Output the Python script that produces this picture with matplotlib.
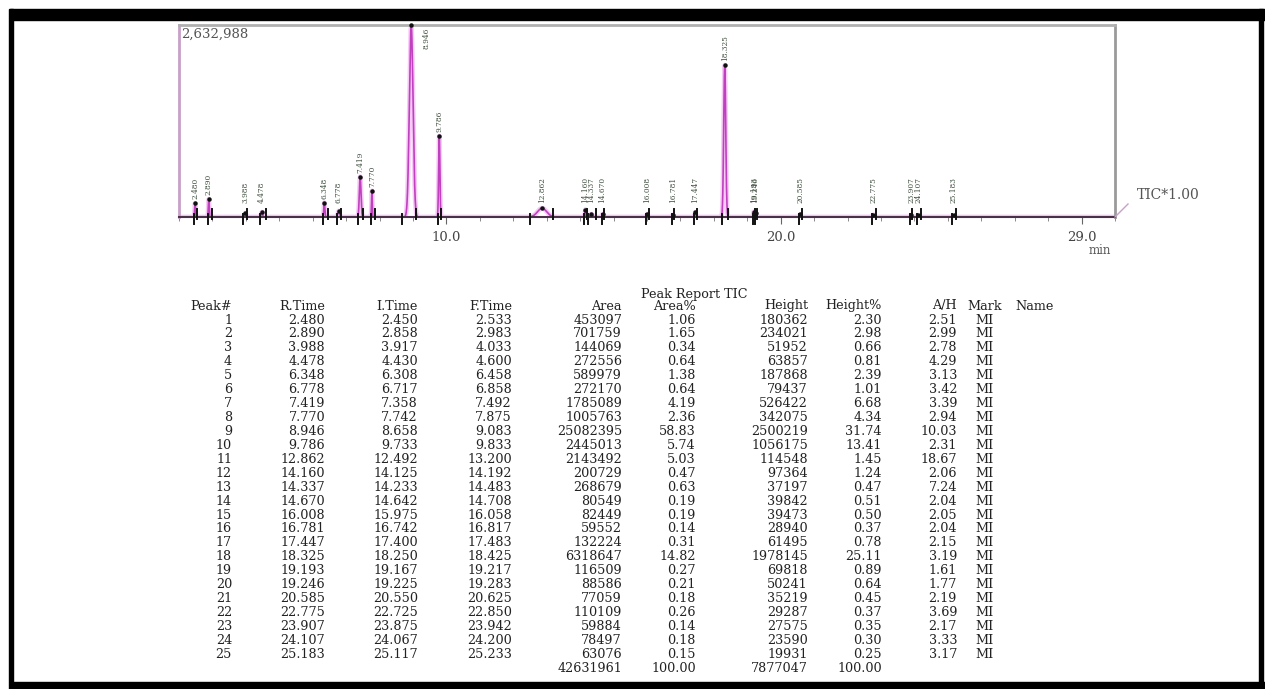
import matplotlib.pyplot as plt
import numpy as np
from matplotlib.patches import Rectangle
from matplotlib.lines import Line2D
from matplotlib.ticker import MultipleLocator

# -- DADOS --
peak_no = list(range(1, 26))
r_time = [2.480, 2.890, 3.988, 4.478, 6.348, 6.778, 7.419, 7.770, 8.946, 9.786,
          12.862, 14.160, 14.337, 14.670, 16.008, 16.781, 17.447, 18.325, 19.193,
          19.246, 20.585, 22.775, 23.907, 24.107, 25.183]
i_time = [2.450, 2.858, 3.917, 4.430, 6.308, 6.717, 7.358, 7.742, 8.658, 9.733,
          12.492, 14.125, 14.233, 14.642, 15.975, 16.742, 17.400, 18.250, 19.167,
          19.225, 20.550, 22.725, 23.875, 24.067, 25.117]
f_time = [2.533, 2.983, 4.033, 4.600, 6.458, 6.858, 7.492, 7.875, 9.083, 9.833,
          13.200, 14.192, 14.483, 14.708, 16.058, 16.817, 17.483, 18.425, 19.217,
          19.283, 20.625, 22.850, 23.942, 24.200, 25.233]
area = [453097, 701759, 144069, 272556, 589979, 272170, 1785089, 1005763, 25082395,
        2445013, 2143492, 200729, 268679, 80549, 82449, 59552, 132224, 6318647,
        116509, 88586, 77059, 110109, 59884, 78497, 63076]
area_pct = [1.06, 1.65, 0.34, 0.64, 1.38, 0.64, 4.19, 2.36, 58.83, 5.74, 5.03, 0.47,
            0.63, 0.19, 0.19, 0.14, 0.31, 14.82, 0.27, 0.21, 0.18, 0.26, 0.14, 0.18, 0.15]
height = [180362, 234021, 51952, 63857, 187868, 79437, 526422, 342075, 2500219,
          1056175, 114548, 97364, 37197, 39842, 39473, 28940, 61495, 1978145, 69818,
          50241, 35219, 29287, 27575, 23590, 19931]
height_pct = [2.30, 2.98, 0.66, 0.81, 2.39, 1.01, 6.68, 4.34, 31.74, 13.41, 1.45, 1.24,
              0.47, 0.51, 0.50, 0.37, 0.78, 25.11, 0.89, 0.64, 0.45, 0.37, 0.35, 0.30, 0.25]
a_h = [2.51, 2.99, 2.78, 4.29, 3.13, 3.42, 3.39, 2.94, 10.03, 2.31, 18.67, 2.06, 7.24,
       2.04, 2.05, 2.04, 2.15, 3.19, 1.61, 1.77, 2.19, 3.69, 2.17, 3.33, 3.17]
mark = ["MI"] * 25
total_area = 42631961
total_area_pct = 100.00
total_height = 7877047
total_height_pct = 100.00
y_max_label = "2,632,988"
x_ticks = [10.0, 20.0, 29.0]

# -- FIGURA --
W, H = 1265, 689
def fx(x): return x / W
def fy(y): return 1 - y / H

plt.rcParams['font.family'] = ['DejaVu Serif']
fig = plt.figure(figsize=(W / 100, H / 100), dpi=100)
ax = fig.add_axes([fx(179), fy(217), (1115 - 179) / W, (217 - 25) / H])

# cromatograma a partir dos picos da tabela
t = np.linspace(2.0, 30.0, 12000)
tic = np.zeros_like(t)
for rt, it, ft, h in zip(r_time, i_time, f_time, height):
    s = min(rt - it, ft - rt) / 2.5
    tic += h * np.exp(-0.5 * ((t - rt) / s) ** 2)
ax.plot(t, tic, color='#ee99ee', lw=3.4, alpha=0.5)
ax.plot(t, tic, color='#c040c0', lw=1.2)

ymax = 2.50e6
px = ymax / 192.0
ax.set_xlim(2.0, 30.0)
ax.set_ylim(0, ymax)

# marcas de início/fim de integração
for it, ft in zip(i_time, f_time):
    ax.plot([it, it], [-7 * px, 3 * px], color='#111', lw=1.4, clip_on=False, zorder=4)
    ax.plot([ft, ft], [-2 * px, 8 * px], color='#111', lw=1.4, clip_on=False, zorder=4)
for rt, h in zip(r_time, height):
    ax.plot(rt, min(h, ymax), marker='o', ms=2.2, color='#111', clip_on=False, zorder=4)

# rótulos de tempo de retenção
for rt, h in zip(r_time, height):
    top = max(h, 10 * px) + 4 * px
    if top + 26 * px > ymax:
        ax.text(rt + 0.45, ymax - 3 * px, f"{rt:.3f}", rotation=90, ha='center', va='top',
                fontsize=5.3, color='#3f4f3f')
    else:
        ax.text(rt, top, f"{rt:.3f}", rotation=90, ha='center', va='bottom',
                fontsize=5.3, color='#3f4f3f')

for side, c in [('left', '#c8a0c8'), ('top', '#b0b0b0'), ('right', '#9a9a9a')]:
    ax.spines[side].set_color(c)
    ax.spines[side].set_linewidth(2)
ax.spines['bottom'].set_color('#4a3048')
ax.spines['bottom'].set_linewidth(1.5)
ax.set_yticks([])
ax.set_xticks(x_ticks)
ax.set_xticklabels([f"{v:.1f}" for v in x_ticks])
ax.xaxis.set_minor_locator(MultipleLocator(1))
ax.tick_params(axis='x', which='major', length=5, color='#666', labelsize=9.5,
               labelcolor='#444', pad=5)
ax.tick_params(axis='x', which='minor', length=3, color='#777')

ax.text(0.002, 0.985, y_max_label, transform=ax.transAxes, ha='left', va='top',
        fontsize=9.5, color='#555')
fig.text(fx(1137), fy(195), "TIC*1.00", ha='left', va='center', fontsize=10, color='#555')
fig.add_artist(Line2D([fx(1115), fx(1128)], [fy(217), fy(204)], color='#c8a0c8', lw=1))
fig.text(fx(1100), fy(251), "min", ha='center', va='center', fontsize=8.5, color='#555')

# -- TABELA --
tc = '#222222'
fs = 9.2
fig.text(fx(694), fy(294), "Peak Report TIC", ha='center', va='center', fontsize=fs, color=tc)
cols = [("Peak#", 232, 'right'), ("R.Time", 325, 'right'), ("I.Time", 418, 'right'),
        ("F.Time", 512, 'right'), ("Area", 622, 'right'), ("Area%", 696, 'right'),
        ("Height", 808, 'right'), ("Height%", 882, 'right'), ("A/H", 957, 'right'),
        ("Mark", 985, 'center'), ("Name", 1015, 'left')]
y_head = 306
for name, x, al in cols:
    fig.text(fx(x), fy(y_head), name, ha=al, va='center', fontsize=fs, color=tc)

row_h = 13.93
for k in range(len(peak_no)):
    y = 320 + k * row_h
    vals = [str(peak_no[k]), f"{r_time[k]:.3f}", f"{i_time[k]:.3f}", f"{f_time[k]:.3f}",
            str(area[k]), f"{area_pct[k]:.2f}", str(height[k]), f"{height_pct[k]:.2f}",
            f"{a_h[k]:.2f}", mark[k]]
    for v, (name, x, al) in zip(vals, cols):
        fig.text(fx(x), fy(y), v, ha=al, va='center', fontsize=fs, color=tc)
y = 320 + len(peak_no) * row_h
for v, x in [(str(total_area), 622), (f"{total_area_pct:.2f}", 696),
             (str(total_height), 808), (f"{total_height_pct:.2f}", 882)]:
    fig.text(fx(x), fy(y), v, ha='right', va='center', fontsize=fs, color=tc)

# moldura preta da captura
for x0, y0, w, h in [(10, 9, 1255, 11), (10, 682, 1255, 7), (9, 9, 4, 680), (1259, 9, 4, 680)]:
    fig.add_artist(Rectangle((fx(x0), fy(y0 + h)), w / W, h / H, color='k',
                             transform=fig.transFigure, zorder=10))

plt.savefig("out.png", dpi=100)
